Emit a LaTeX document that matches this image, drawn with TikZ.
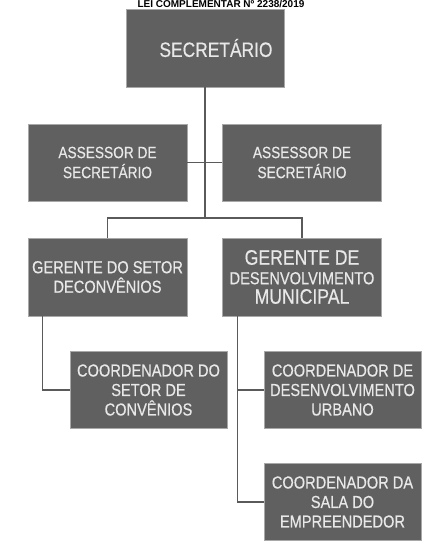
\documentclass[tikz,border=0pt]{standalone}
\usepackage{fontspec}
\usepackage{xcolor}
\usepackage{tikz}
\usetikzlibrary{positioning}
\setmainfont{Liberation Sans}
\newfontfamily\orgfont{Liberation Sans}[FakeStretch=0.84, FakeBold=0.4]
\definecolor{boxgray}{HTML}{606060}
\definecolor{edgegray}{HTML}{A8A8A8}
\definecolor{textgray}{HTML}{E8E8E8}
\definecolor{linegray}{HTML}{5A5A5A}

\begin{document}
\begin{tikzpicture}[
    x=1pt, y=-1pt,
    box/.style={rectangle, draw=edgegray, fill=boxgray, line width=0.8pt, text=textgray, align=center, inner sep=0pt, font=\orgfont\fontsize{17.4}{19.5}\selectfont},
    chief/.style={box, minimum width=158pt, minimum height=78pt, font=\orgfont\fontsize{20.7}{22}\selectfont},
    advisor/.style={box, minimum width=159pt, minimum height=77pt, font=\orgfont\fontsize{16.3}{20}\selectfont},
    manager/.style={box, minimum width=159pt, minimum height=78pt},
    coordinator/.style={box, minimum width=157pt, minimum height=77pt},
    link/.style={draw=linegray, line width=1.2pt}
]
\useasboundingbox (0,0) rectangle (447,546);

% Header
\node[font=\bfseries\fontsize{10}{12}\selectfont, anchor=base, inner sep=0pt] (title) at (221,8) {LEI COMPLEMENTAR Nº 2238/2019};

% Secretary
\node[chief] (secretario) at (205,48) {\hspace*{22pt}SECRETÁRIO};

% Advisors
\node[advisor] (assessor_l) at (107.5,162.5) {ASSESSOR DE\\SECRETÁRIO};
\node[advisor] (assessor_r) at (302,162.5) {ASSESSOR DE\\SECRETÁRIO};

% Managers
\node[manager] (gerente_conv) at (107.5,277) {GERENTE DO SETOR\\DECONVÊNIOS};
\node[manager] (gerente_dev) at (302,277) {{\fontsize{21}{19.5}\selectfont GERENTE DE}\\DESENVOLVIMENTO\\{\fontsize{21}{19.5}\selectfont MUNICIPAL}};

% Coordinators
\node[coordinator] (coord_conv) at (148.5,390) {COORDENADOR DO\\SETOR DE\\CONVÊNIOS};
\node[coordinator] (coord_urb) at (342.5,390) {COORDENADOR DE\\DESENVOLVIMENTO\\URBANO};
\node[coordinator] (coord_sala) at (342.5,502) {COORDENADOR DA\\SALA DO\\EMPREENDEDOR};

% Hierarchy lines
\coordinate (hub) at (205,218);
\draw[link] (secretario.south) -- (hub);
\draw[link] (assessor_l.east) -- (assessor_r.west);
\draw[link] (gerente_conv.north) |- (hub) -| (gerente_dev.north);
\draw[link] ([xshift=15pt]gerente_conv.south west) |- (coord_conv.west);
\draw[link] ([xshift=15pt]gerente_dev.south west) |- (coord_urb.west);
\draw[link] ([xshift=15pt]gerente_dev.south west) |- (coord_sala.west);

\end{tikzpicture}
\end{document}
